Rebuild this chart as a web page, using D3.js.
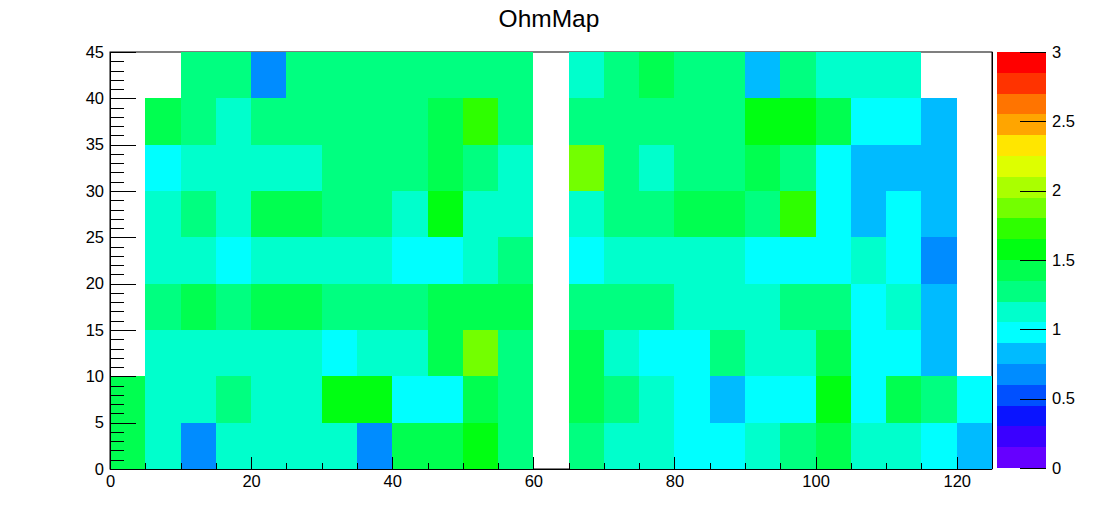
<!DOCTYPE html>
<html>
<head>
<meta charset="utf-8">
<script src="https://cdn.jsdelivr.net/npm/d3@7"></script>
<style>
  html, body { margin: 0; padding: 0; background: #fff; }
  svg { display: block; font-family: "Liberation Sans", Arial, sans-serif; }
</style>
</head>
<body>
<svg id="chart" width="1102" height="522"></svg>
<script>
// ---------------- DATA ----------------
const title = "OhmMap";
// bin edges (x: 0..125 step 5, y: 0..45 step 5)
const xEdges = [0,5,10,15,20,25,30,35,40,45,50,55,60,65,70,75,80,85,90,95,100,105,110,115,120,125];
const yEdges = [0,5,10,15,20,25,30,35,40,45];
// cell values per row (row 0 = y 0..5), null = empty bin
const row0 = [1.42,1.13,0.68,1.13,1.13,1.13,1.13,0.68,1.42,1.42,1.58,1.28,null,1.28,1.13,1.13,0.98,0.98,1.13,1.28,1.42,1.13,1.13,0.98,0.83];
const row1 = [1.42,1.13,1.13,1.28,1.13,1.13,1.58,1.58,0.98,0.98,1.42,1.28,null,1.42,1.28,1.13,0.98,0.83,0.98,0.98,1.58,0.98,1.42,1.28,0.98];
const row2 = [null,1.13,1.13,1.13,1.13,1.13,0.98,1.13,1.13,1.42,1.87,1.28,null,1.42,1.13,0.98,0.98,1.28,1.13,1.13,1.42,0.98,0.98,0.83,null];
const row3 = [null,1.28,1.42,1.28,1.42,1.42,1.28,1.28,1.28,1.42,1.42,1.42,null,1.28,1.28,1.28,1.13,1.13,1.13,1.28,1.28,0.98,1.13,0.83,null];
const row4 = [null,1.13,1.13,0.98,1.13,1.13,1.13,1.13,0.98,0.98,1.13,1.28,null,0.98,1.13,1.13,1.13,1.13,0.98,0.98,0.98,1.13,0.98,0.68,null];
const row5 = [null,1.13,1.28,1.13,1.42,1.42,1.28,1.28,1.13,1.58,1.13,1.13,null,1.13,1.28,1.28,1.42,1.42,1.28,1.72,0.98,0.83,0.98,0.83,null];
const row6 = [null,0.98,1.13,1.13,1.13,1.13,1.28,1.28,1.28,1.42,1.28,1.13,null,1.87,1.28,1.13,1.28,1.28,1.42,1.28,0.98,0.83,0.83,0.83,null];
const row7 = [null,1.42,1.28,1.13,1.28,1.28,1.28,1.28,1.28,1.42,1.72,1.28,null,1.28,1.28,1.28,1.28,1.28,1.58,1.58,1.42,0.98,0.98,0.83,null];
const row8 = [null,null,1.28,1.28,0.68,1.28,1.28,1.28,1.28,1.28,1.28,1.28,null,1.13,1.28,1.42,1.28,1.28,0.83,1.28,1.13,1.13,1.13,null,null];
const rows = [row0,row1,row2,row3,row4,row5,row6,row7,row8];
// colour scale: 20 contour levels from 0 to 3
const zMin = 0, zMax = 3;
const paletteColors = ["#6600ff","#3a00ff","#0a14ff","#0050ff","#008cff","#00bbff","#00ffff","#00ffcc",
  "#00ff80","#00ff50","#00ff12","#2eff00","#73ff00","#aaff00","#ddff00","#ffe600","#ffa500","#ff7400","#ff3300","#ff0000"];
const xTicksMajor = [0,20,40,60,80,100,120];
const yTicksMajor = [0,5,10,15,20,25,30,35,40,45];
const zTicks = [0,0.5,1,1.5,2,2.5,3];

// ---------------- LAYOUT ----------------
const svg = d3.select("#chart");
const L = 110, R = 992, T = 52, B = 469;
const cbL = 997, cbR = 1046;

const x = d3.scaleLinear().domain([0,125]).range([L,R]);
const y = d3.scaleLinear().domain([0,45]).range([B,T]);
const levels = d3.range(paletteColors.length + 1).map(i => zMin + i*(zMax-zMin)/paletteColors.length);
const color = d3.scaleQuantize().domain([zMin,zMax]).range(paletteColors);
const zy = d3.scaleLinear().domain([zMin,zMax]).range([B-1,T]);

// frame
svg.append("rect").attr("x",L).attr("y",T).attr("width",R-L).attr("height",B-T)
  .attr("fill","none").attr("stroke","#000").attr("stroke-width",1);

// cells
const cells = [];
rows.forEach((row,j) => row.forEach((v,i) => { if (v !== null) cells.push({i,j,v}); }));
svg.append("g").selectAll("rect").data(cells).join("rect")
  .attr("x", d => x(xEdges[d.i]))
  .attr("y", d => y(yEdges[d.j+1]))
  .attr("width", d => x(xEdges[d.i+1]) - x(xEdges[d.i]))
  .attr("height", d => y(yEdges[d.j]) - y(yEdges[d.j+1]))
  .attr("fill", d => color(d.v))
  .attr("shape-rendering","crispEdges");

// right frame edge on top
svg.append("line").attr("x1",R+0.5).attr("x2",R+0.5).attr("y1",T).attr("y2",B)
  .attr("stroke","#000");

// x axis
const xAxis = d3.axisBottom(x).tickValues(xTicksMajor).tickSize(0).tickPadding(6).tickFormat(d3.format("d"));
const gx = svg.append("g").attr("transform",`translate(0,${B})`).call(xAxis);
gx.select(".domain").attr("stroke","#000").attr("d",`M${L},0.5H${R}`);
gx.selectAll("text").attr("font-size","16.5px").attr("fill","#000").attr("dy","0.75em");
// x ticks (inside, upward)
const xMinor = d3.range(0,126,5);
svg.append("g").selectAll("line").data(xMinor).join("line")
  .attr("x1", d => Math.round(x(d))+0.5).attr("x2", d => Math.round(x(d))+0.5)
  .attr("y1", B).attr("y2", d => B - (d % 20 === 0 ? 12 : 6))
  .attr("stroke","#000");

// y axis
const yAxis = d3.axisLeft(y).tickValues(yTicksMajor).tickSize(0).tickPadding(6).tickFormat(d3.format("d"));
const gy = svg.append("g").attr("transform",`translate(${L},0)`).call(yAxis);
gy.select(".domain").attr("stroke","#000").attr("d",`M0.5,${T}V${B}`);
gy.selectAll("text").attr("font-size","16.5px").attr("fill","#000");
const yMinor = d3.range(0,46,1);
svg.append("g").selectAll("line").data(yMinor).join("line")
  .attr("x1", L).attr("x2", d => L + (d % 5 === 0 ? 26 : 14))
  .attr("y1", d => Math.round(y(d))+0.5).attr("y2", d => Math.round(y(d))+0.5)
  .attr("stroke","#000");

// colour bar
svg.append("g").selectAll("rect").data(paletteColors).join("rect")
  .attr("x", cbL).attr("width", cbR - cbL)
  .attr("y", (c,i) => zy(levels[i+1]))
  .attr("height", (c,i) => zy(levels[i]) - zy(levels[i+1]))
  .attr("fill", c => c)
  .attr("shape-rendering","crispEdges");
const zAxis = d3.axisRight(zy).tickValues(zTicks).tickSize(0).tickPadding(6).tickFormat(d => String(d));
const gz = svg.append("g").attr("transform",`translate(${cbR},0)`).call(zAxis);
gz.select(".domain").remove();
gz.selectAll("text").attr("font-size","16.5px").attr("fill","#000");
svg.append("g").selectAll("line").data(zTicks).join("line")
  .attr("x1", cbR - 26).attr("x2", cbR)
  .attr("y1", d => Math.round(zy(d))+0.5).attr("y2", d => Math.round(zy(d))+0.5)
  .attr("stroke","#000");

// title
svg.append("text").attr("x", 549).attr("y", 27).attr("text-anchor","middle")
  .attr("font-size","24.5px").attr("fill","#000").text(title);
</script>
</body>
</html>
